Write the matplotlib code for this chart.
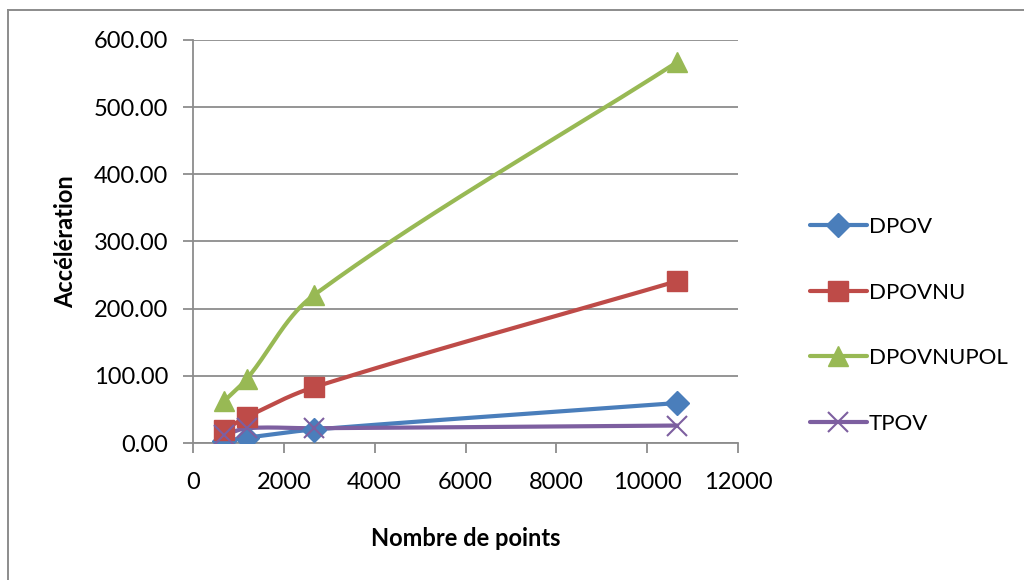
import numpy as np
import matplotlib
matplotlib.use("Agg")
import matplotlib.pyplot as plt
from matplotlib.lines import Line2D

plt.rcParams['font.family'] = ['Lato', 'DejaVu Sans']

# Data
n_points = [680, 1190, 2660, 10660]
dpov = [3.0, 8.0, 20.0, 59.5]
dpovnu = [19.0, 39.0, 83.0, 241.0]
dpovnupol = [62.0, 96.0, 220.0, 567.0]
tpov = [12.0, 22.0, 22.0, 26.0]
series_names = ["DPOV", "DPOVNU", "DPOVNUPOL", "TPOV"]
x_ticks = [0, 2000, 4000, 6000, 8000, 10000, 12000]
y_ticks = [0, 100, 200, 300, 400, 500, 600]

colors = ["#4A7EBB", "#BE4B48", "#98B954", "#7D5FA0"]
markers = ["D", "s", "^", "x"]
msizes = [12, 14, 15, 14]

W, H = 1024, 580
AX_L, AX_R, AX_T, AX_B = 193, 738, 40, 443
X_MAX, Y_MAX = 12000, 600


def smooth(xs, ys, steps=60):
    """Smoothed line through the points, built from cubic Bezier segments
    computed in screen proportions so the curve looks even on both axes."""
    kx = (AX_R - AX_L) / X_MAX
    ky = (AX_B - AX_T) / Y_MAX
    P = np.column_stack([np.asarray(xs, float) * kx, np.asarray(ys, float) * ky])
    n = len(P)
    tangents = []
    for i in range(n):
        d = P[min(i + 1, n - 1)] - P[max(i - 1, 0)]
        tangents.append(d / np.linalg.norm(d))
    out = []
    for i in range(n - 1):
        p1, p2 = P[i], P[i + 1]
        seg = np.linalg.norm(p2 - p1)
        c1 = p1 + tangents[i] * seg / 3.0
        c2 = p2 - tangents[i + 1] * seg / 3.0
        t = np.linspace(0, 1, steps)[:, None]
        b = ((1 - t) ** 3) * p1 + 3 * ((1 - t) ** 2) * t * c1 + 3 * (1 - t) * t ** 2 * c2 + t ** 3 * p2
        out.append(b)
    out = np.vstack(out)
    return out[:, 0] / kx, out[:, 1] / ky


fig = plt.figure(figsize=(W / 100, H / 100), dpi=100)
# chart frame: left and top edges
fig.add_artist(Line2D([8 / W, 8 / W], [0, 1 - 10 / H], transform=fig.transFigure,
                      color="#8C8C8C", linewidth=1.4))
fig.add_artist(Line2D([8 / W, 1], [1 - 10 / H, 1 - 10 / H], transform=fig.transFigure,
                      color="#8C8C8C", linewidth=1.4))

ax = fig.add_axes([AX_L / W, 1 - AX_B / H, (AX_R - AX_L) / W, (AX_B - AX_T) / H])

for ys, c, m, ms in zip([dpov, dpovnu, dpovnupol, tpov], colors, markers, msizes):
    sx, sy = smooth(n_points, ys)
    ax.plot(sx, sy, color=c, linewidth=3, solid_capstyle="round", zorder=3)
    if m == "x":
        ax.plot(n_points, ys, linestyle="none", marker=m, markersize=ms,
                markeredgecolor=c, markeredgewidth=1.5, zorder=4)
    else:
        ax.plot(n_points, ys, linestyle="none", marker=m, markersize=ms,
                markerfacecolor=c, markeredgecolor=c, zorder=4)

ax.set_xlim(0, X_MAX)
ax.set_ylim(0, Y_MAX)
ax.set_xticks(x_ticks)
ax.set_yticks(y_ticks)
ax.set_xticklabels([str(v) for v in x_ticks])
ax.set_yticklabels([f"{v:.2f}" for v in y_ticks])
ax.grid(axis="y", color="#8C8C8C", linewidth=1.3)
ax.set_axisbelow(True)
for s in ["top", "right"]:
    ax.spines[s].set_visible(False)
for s in ["left", "bottom"]:
    ax.spines[s].set_color("#8C8C8C")
    ax.spines[s].set_linewidth(1.3)
ax.tick_params(axis="both", colors="#8C8C8C", labelcolor="black", labelsize=17,
               length=7, width=1.3, direction="out")
ax.tick_params(axis="x", pad=14)
ax.tick_params(axis="y", pad=11)

ax.set_xlabel("Nombre de points", fontsize=17, fontweight="bold", labelpad=24)
ax.set_ylabel("Accélération", fontsize=17, fontweight="bold", labelpad=12)

handles = []
for c, m, ms in zip(colors, markers, msizes):
    if m == "x":
        h = Line2D([], [], color=c, linewidth=3, marker=m, markersize=ms,
                   markeredgecolor=c, markeredgewidth=1.5, solid_capstyle="round")
    else:
        h = Line2D([], [], color=c, linewidth=3, marker=m, markersize=ms,
                   markerfacecolor=c, markeredgecolor=c, solid_capstyle="round")
    handles.append(h)

fig.legend(handles, series_names, loc="upper left",
           bbox_to_anchor=(810 / W, 1 - 217 / H), frameon=False,
           fontsize=16, handlelength=2.55, handletextpad=0.1,
           labelspacing=2.05, borderaxespad=0, borderpad=0)

fig.savefig("out.png", dpi=100)
